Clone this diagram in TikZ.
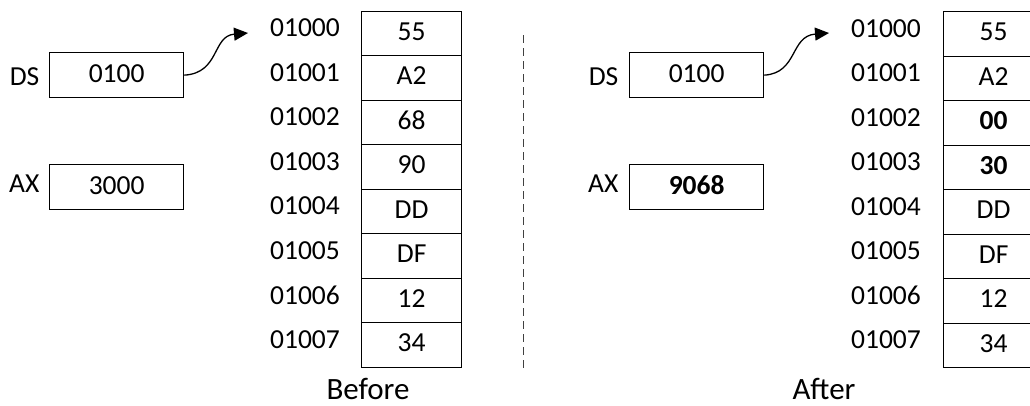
\documentclass[tikz,border=0pt]{standalone}
\usepackage{fontspec}
\setmainfont{Carlito}
\usetikzlibrary{arrows.meta}
\begin{document}
\begin{tikzpicture}[x=1pt,y=-1pt,
  font=\fontsize{27.5}{33}\selectfont,
  line width=1.3pt,
  cell/.style={draw, minimum width=100pt, minimum height=44.5pt, inner sep=0pt, anchor=north west},
  reg/.style={draw, minimum width=134pt, minimum height=45pt, inner sep=0pt, anchor=north west},
  addr/.style={inner sep=0pt},
  rlabel/.style={inner sep=0pt, anchor=east},
  caption/.style={inner sep=0pt, font=\fontsize{31}{37}\selectfont},
  ptr/.style={-{Triangle[length=14pt,width=13pt]}, line width=1.3pt},
  divider/.style={line width=1pt, draw=black!75, dash pattern=on 8pt off 5pt}]

% text raised slightly inside its box
\newcommand{\up}[1]{\raisebox{2pt}[\height][0pt]{#1}}

\useasboundingbox (0,0) rectangle (1030,405);
\clip (0,0) rectangle (1030,405);

% ---------- Before ----------
\node[reg] (dsL) at (49,52) {\up{0100}};
\node[rlabel] (dsLlab) at (40,77) {DS};
\node[reg] (axL) at (49,164) {\up{3000}};
\node[rlabel] (axLlab) at (40,184) {AX};

\foreach \v [count=\i from 0] in {55,A2,68,90,DD,DF,12,34} {
  \node[cell] (L\i) at (361,10.5+44.5*\i) {\up{\v}};
  \node[addr] (LA\i) at (305,28+44.5*\i) {0100\i};
}

\coordinate (tipL) at (248,33);
\draw[ptr] (dsL.east) .. controls (220,73) and (212,36) .. (tipL);

\node[caption] (before) at (368,389) {Before};

% ---------- divider ----------
\coordinate (divTop) at (523,35);
\coordinate (divBot) at (523,372);
\draw[divider] (divTop) -- (divBot);

% ---------- After ----------
\node[reg] (dsR) at (629,52) {\up{0100}};
\node[rlabel] (dsRlab) at (619,77) {DS};
\node[reg] (axR) at (629,164) {\up{\bfseries 9068}};
\node[rlabel] (axRlab) at (619,184) {AX};

\foreach \v [count=\i from 0] in {55,A2,\textbf{00},\textbf{30},DD,DF,12,34} {
  \node[cell] (R\i) at (943,11+44.5*\i) {\up{\v}};
  \node[addr] (RA\i) at (886,28.5+44.5*\i) {0100\i};
}

\coordinate (tipR) at (829,33);
\draw[ptr] (dsR.east) .. controls (798,73) and (790,36) .. (tipR);

\node[caption] (after) at (824,389) {After};
\end{tikzpicture}
\end{document}
